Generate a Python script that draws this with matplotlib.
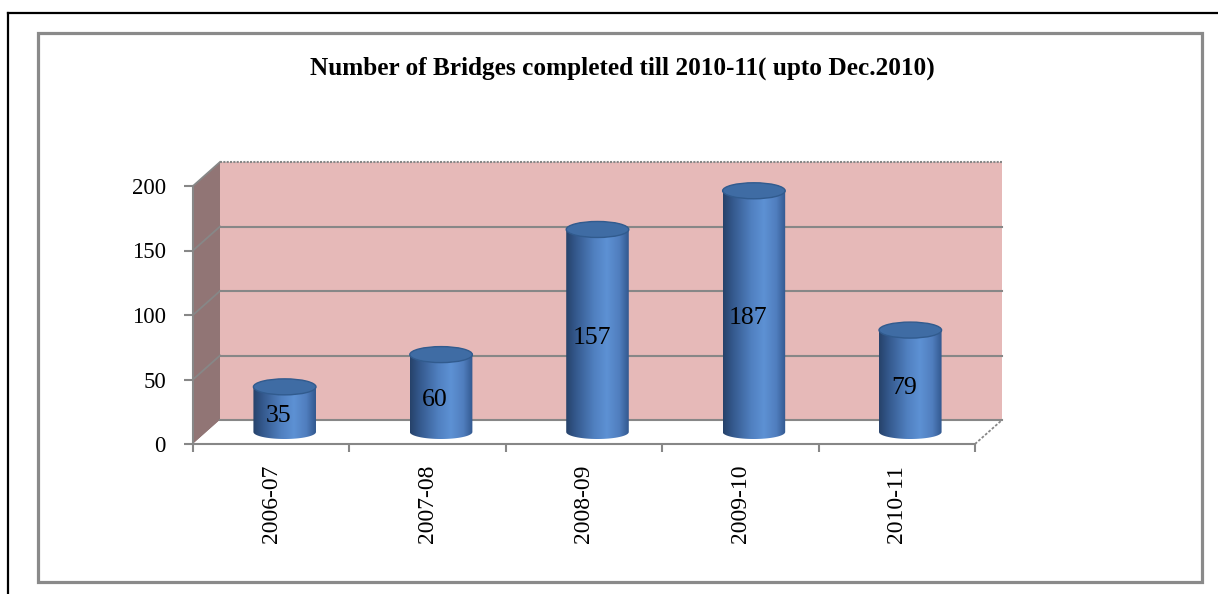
import matplotlib
matplotlib.use('Agg')
import matplotlib.pyplot as plt
import numpy as np
from matplotlib.transforms import Affine2D, IdentityTransform
from matplotlib.patches import Polygon, Rectangle, Ellipse, PathPatch
from matplotlib.path import Path
from matplotlib.lines import Line2D
from matplotlib.colors import LinearSegmentedColormap

# ---- data ----
years = ['2006-07', '2007-08', '2008-09', '2009-10', '2010-11']
bridges = [35, 60, 157, 187, 79]
yticks = [0, 50, 100, 150, 200]
title = 'Number of Bridges completed till 2010-11( upto Dec.2010)'

plt.rcParams['font.family'] = ['Liberation Serif', 'DejaVu Serif']

W, H, DPI = 1218, 594, 100
fig = plt.figure(figsize=(W / DPI, H / DPI), dpi=DPI)
fig.patch.set_facecolor('white')


def fx(px):
    return px / W


def fy(py):
    return 1 - py / H


GREY = '#878787'
PINK = '#E6B9B8'
SIDE = '#917575'

# outer black frame (top and left visible)
fig.add_artist(Line2D([fx(8), 1.0], [fy(13), fy(13)], transform=fig.transFigure,
                      color='black', lw=1.6))
fig.add_artist(Line2D([fx(8), fx(8)], [fy(13), 0.0], transform=fig.transFigure,
                      color='black', lw=1.6))
# inner grey chart-area frame
fig.add_artist(Rectangle((fx(38), fy(582)), fx(1202) - fx(38), fy(33) - fy(582),
                         transform=fig.transFigure, fill=False, edgecolor='#8a8a8a', lw=2.3))

fig.text(fx(622), fy(68), title, ha='center', va='center', fontsize=18.2,
         fontweight='bold')

ax = fig.add_axes([fx(193), fy(444), fx(975) - fx(193), fy(186) - fy(444)])
ax.set_xlim(-0.5, len(years) - 0.5)
ax.set_ylim(yticks[0], yticks[-1])
ax.patch.set_visible(False)

DX, DY = 27, 24
backA = ax.transAxes + Affine2D().translate(DX, DY)
backD = ax.transData + Affine2D().translate(DX, DY)
midD = ax.transData + Affine2D().translate(DX / 2, DY / 2)
labD = midD + Affine2D().translate(-6, -7)

# back wall
ax.add_patch(Rectangle((0, 0), 1, 1, transform=backA, facecolor=PINK,
                       edgecolor='none', zorder=0, clip_on=False))
# side wall
p00 = ax.transAxes.transform((0, 0))
p01 = ax.transAxes.transform((0, 1))
p10 = ax.transAxes.transform((1, 0))
d = np.array([DX, DY])
ax.add_patch(Polygon([p00, p00 + d, p01 + d, p01], closed=True,
                     transform=IdentityTransform(), facecolor=SIDE,
                     edgecolor='none', zorder=0, clip_on=False))
# floor
ax.add_patch(Polygon([p00, p10, p10 + d, p00 + d], closed=True,
                     transform=IdentityTransform(), facecolor='white',
                     edgecolor='none', zorder=1, clip_on=False))
ax.add_line(Line2D([p10[0], p10[0] + DX], [p10[1], p10[1] + DY],
                   transform=IdentityTransform(), color=GREY, lw=1.3,
                   ls=(0, (1.5, 1)), zorder=1, clip_on=False))

# gridlines on back wall and side wall
x0, x1 = ax.get_xlim()
for yv in yticks:
    ls = (0, (1, 0.6)) if yv == yticks[-1] else '-'
    ax.add_line(Line2D([x0, x1], [yv, yv], transform=backD, color=GREY,
                       lw=1.5, ls=ls, zorder=1, clip_on=False))
    pf = ax.transData.transform((x0, yv))
    if yv != yticks[0]:
        ax.add_line(Line2D([pf[0], pf[0] + DX], [pf[1], pf[1] + DY],
                           transform=IdentityTransform(), color=GREY, lw=1.3,
                           zorder=1, clip_on=False))

# cylinders
cmap = LinearSegmentedColormap.from_list('cyl', [
    (0.0, (38 / 255, 66 / 255, 106 / 255)),
    (0.15, (52 / 255, 88 / 255, 140 / 255)),
    (0.45, (80 / 255, 128 / 255, 192 / 255)),
    (0.65, (93 / 255, 145 / 255, 212 / 255)),
    (0.85, (80 / 255, 126 / 255, 190 / 255)),
    (1.0, (50 / 255, 88 / 255, 142 / 255)),
])
grad = np.linspace(0, 1, 256).reshape(1, -1)
ppu = ax.transData.transform((0, 1))[1] - ax.transData.transform((0, 0))[1]
eh = 14.0 / ppu
eh_top = 16.0 / ppu
bw = 0.40
for i, v in enumerate(bridges):
    t = np.linspace(np.pi, 2 * np.pi, 40)
    bottom = np.column_stack([i + bw / 2 * np.cos(t), eh / 2 * np.sin(t)])
    verts = np.vstack([[i - bw / 2, v], bottom, [i + bw / 2, v], [i - bw / 2, v]])
    clip = PathPatch(Path(verts), transform=midD)
    im = ax.imshow(grad, cmap=cmap, extent=(i - bw / 2, i + bw / 2, -eh / 2, v),
                   transform=midD, aspect='auto', zorder=3, interpolation='bilinear')
    im.set_clip_path(clip)
    ax.add_patch(Ellipse((i, v), bw, eh_top, transform=midD, facecolor='#3F6CA4',
                         edgecolor='#315B8E', lw=1.0, zorder=4, clip_on=False))
    ax.text(i, v / 2, str(v), transform=labD, ha='center', va='center',
            fontsize=18.5, zorder=5)

ax.set_xlim(-0.5, len(years) - 0.5)
ax.set_ylim(yticks[0], yticks[-1])

# axes styling
for s in ['top', 'right']:
    ax.spines[s].set_visible(False)
for s in ['left', 'bottom']:
    ax.spines[s].set_color(GREY)
    ax.spines[s].set_linewidth(1.5)
    ax.spines[s].set_zorder(2)
ax.set_yticks(yticks)
ax.set_yticklabels([str(y) for y in yticks])
ax.tick_params(axis='y', length=6.5, width=1.5, color=GREY, pad=13, labelsize=16.5)
ax.set_xticks(np.arange(len(years) + 1) - 0.5)
ax.set_xticklabels([])
ax.set_xticks(np.arange(len(years)), minor=True)
ax.set_xticklabels(years, minor=True, rotation=90, fontsize=17, va='top')
ax.tick_params(axis='x', which='major', length=6, width=1.5, color=GREY)
ax.tick_params(axis='x', which='minor', length=0, pad=15)

fig.savefig('out.png', dpi=DPI)
